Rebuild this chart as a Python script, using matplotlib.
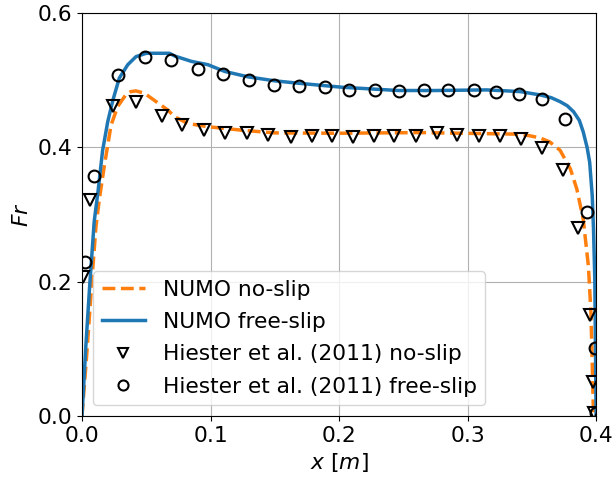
import matplotlib
matplotlib.use('Agg')
import matplotlib.pyplot as plt
import numpy as np

# NUMO no-slip (dashed orange)
x_noslip = [0.0, 0.004, 0.008, 0.0109, 0.0135, 0.0174, 0.0226, 0.0278, 0.034, 0.038,
            0.042, 0.0486, 0.0577, 0.0668, 0.072, 0.0823, 0.098, 0.124, 0.150, 0.200,
            0.263, 0.341, 0.349, 0.3565, 0.364, 0.372, 0.380, 0.385, 0.390, 0.394,
            0.396, 0.397, 0.398]
fr_noslip = [0.0, 0.10, 0.21, 0.283, 0.323, 0.373, 0.433, 0.461, 0.478, 0.483,
             0.484, 0.4805, 0.468, 0.4555, 0.4457, 0.4356, 0.4307, 0.4256, 0.4215, 0.421,
             0.422, 0.4196, 0.417, 0.414, 0.408, 0.3956, 0.368, 0.338, 0.293, 0.2235,
             0.154, 0.079, 0.0]

# NUMO free-slip (solid blue)
x_freeslip = [0.0, 0.003, 0.006, 0.0095, 0.0125, 0.016, 0.020, 0.024, 0.029, 0.0356,
              0.042, 0.050, 0.068, 0.072, 0.085, 0.098, 0.111, 0.129, 0.150, 0.168,
              0.202, 0.246, 0.275, 0.315, 0.341, 0.3565, 0.365, 0.372, 0.3775, 0.3825,
              0.387, 0.390, 0.393, 0.395, 0.397, 0.398, 0.399, 0.3995, 0.400]
fr_freeslip = [0.0, 0.105, 0.195, 0.29, 0.335, 0.395, 0.438, 0.470, 0.503, 0.523,
               0.535, 0.540, 0.540, 0.536, 0.528, 0.523, 0.513, 0.505, 0.499, 0.4955,
               0.4895, 0.4846, 0.4846, 0.4855, 0.483, 0.478, 0.474, 0.468, 0.462, 0.453,
               0.440, 0.423, 0.400, 0.378, 0.328, 0.278, 0.204, 0.104, 0.0]

# Hiester et al. (2011) no-slip
hx_noslip = [0.001, 0.0065, 0.024, 0.042, 0.062, 0.078, 0.095, 0.1115, 0.128, 0.145,
             0.1625, 0.1786, 0.1946, 0.211, 0.227, 0.243, 0.260, 0.276, 0.292, 0.309,
             0.325, 0.3415, 0.358, 0.374, 0.386, 0.3955, 0.3977, 0.398]
hfr_noslip = [0.207, 0.322, 0.461, 0.467, 0.446, 0.433, 0.426, 0.422, 0.421, 0.418,
              0.415, 0.417, 0.417, 0.416, 0.417, 0.417, 0.417, 0.421, 0.418, 0.417,
              0.417, 0.412, 0.399, 0.366, 0.280, 0.151, 0.051, 0.005]

# Hiester et al. (2011) free-slip
hx_freeslip = [0.002, 0.009, 0.028, 0.049, 0.069, 0.090, 0.110, 0.130, 0.149, 0.169,
               0.189, 0.208, 0.228, 0.247, 0.266, 0.285, 0.305, 0.322, 0.340, 0.358,
               0.376, 0.393, 0.3995, 0.400]
hfr_freeslip = [0.23, 0.358, 0.507, 0.535, 0.530, 0.517, 0.509, 0.500, 0.493, 0.491,
                0.490, 0.486, 0.486, 0.484, 0.486, 0.486, 0.485, 0.482, 0.480, 0.472,
                0.442, 0.304, 0.101, 0.004]

plt.rcParams['font.size'] = 15.7

fig = plt.figure(figsize=(6.12, 4.8), dpi=100)
ax = fig.add_axes([0.134, 0.133, 0.84, 0.84])

ax.plot(x_noslip, fr_noslip, '--', color='tab:orange', lw=2.5, label='NUMO no-slip')
ax.plot(x_freeslip, fr_freeslip, '-', color='tab:blue', lw=2.5, label='NUMO free-slip')
ax.plot(hx_noslip, hfr_noslip, 'v', mfc='none', mec='k', ms=8.5, mew=1.5,
        label='Hiester et al. (2011) no-slip')
ax.plot(hx_freeslip, hfr_freeslip, 'o', mfc='none', mec='k', ms=8.5, mew=1.5,
        label='Hiester et al. (2011) free-slip')

ax.set_xlim(0, 0.4)
ax.set_ylim(0, 0.6)
ax.set_xticks([0.0, 0.1, 0.2, 0.3, 0.4])
ax.set_yticks([0.0, 0.2, 0.4, 0.6])
ax.grid(True)
ax.set_xlabel('$x$ [$m$]')
ax.set_ylabel('$Fr$')
ax.legend(loc='lower left', markerscale=0.85, labelspacing=0.56)

fig.savefig('out.png', dpi=100)
